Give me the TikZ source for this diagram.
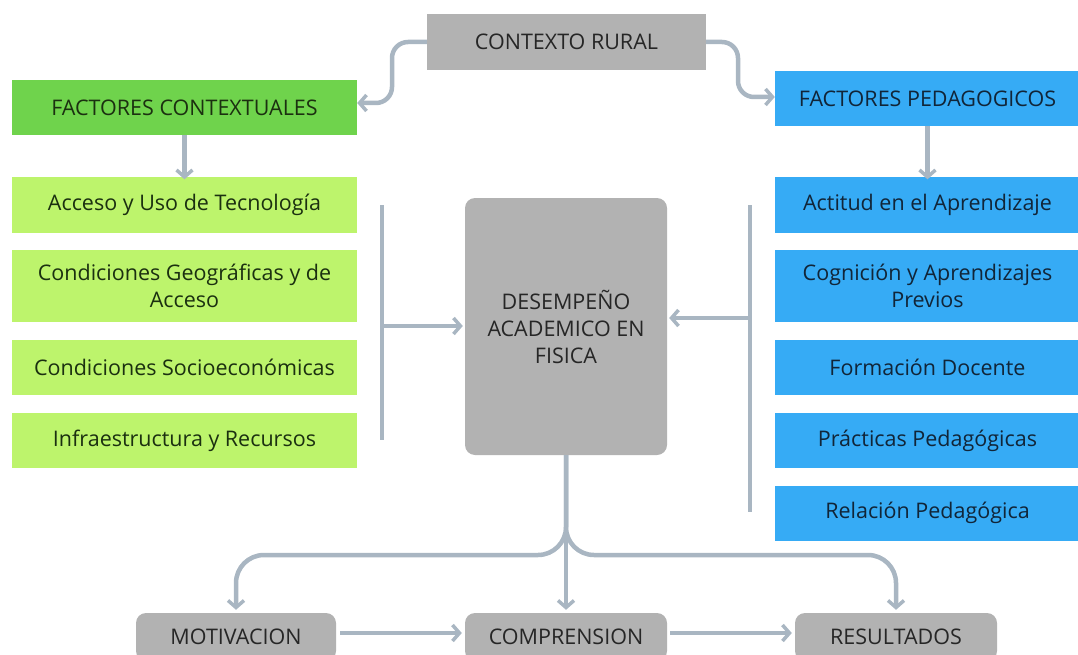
\documentclass[tikz,border=0pt]{standalone}
\usepackage{fontspec}
\setmainfont{Open Sans}
\usepackage{xcolor}
\usepackage{tikz}
\usetikzlibrary{arrows.meta}
\usetikzlibrary{positioning}

\definecolor{grisbox}{HTML}{B2B2B2}
\definecolor{verdehead}{HTML}{6FD34C}
\definecolor{verdebox}{HTML}{BDF46C}
\definecolor{azulbox}{HTML}{36ABF5}
\definecolor{flecha}{HTML}{A9B6C2}
\definecolor{txtgris}{HTML}{262626}
\definecolor{txtverde}{HTML}{1B3010}
\definecolor{txtazul}{HTML}{112538}

\begin{document}
\begin{tikzpicture}[
                x = 1pt, y = -1pt,
                font = \fontsize{21.5}{27}\selectfont,
                box/.style = {inner sep = 2pt, align = center, minimum width = #1},
                gris/.style = {box = #1, fill = grisbox, text = txtgris},
                grisr/.style = {gris = #1, rounded corners = 10pt},
                head/.style = {box = #1, fill = verdehead, text = txtverde, minimum height = 55pt},
                verde/.style = {box = 345pt, fill = verdebox, text = txtverde, minimum height = 55pt},
                azul/.style = {box = 305pt, fill = azulbox, text = txtazul, minimum height = 55pt},
                line/.style = {draw = flecha, line width = 4.5pt},
                arr/.style = {line, -{Straight Barb[length = 7pt, width = 16pt, line width = 3.5pt]}},
            ]
            \useasboundingbox (0,0) rectangle (1078,655);

            % cabecera
            \node (ctx) [gris = 279pt, minimum height = 56pt] at (566.5,42) {CONTEXTO RURAL};
            \node (fc) [head = 345pt] at (184.5,107.5) {FACTORES CONTEXTUALES};
            \node (fp) [azul] at (927.5,98.5) {FACTORES PEDAGOGICOS};

            % factores contextuales
            \node (c1) [verde] at (184.5,205) {Acceso y Uso de Tecnología};
            \node (c2) [verde, minimum height = 72pt] at (184.5,286) {Condiciones Geográficas y de\\Acceso};
            \node (c3) [verde] at (184.5,367.5) {Condiciones Socioeconómicas};
            \node (c4) [verde] at (184.5,440.5) {Infraestructura y Recursos};

            % factores pedagogicos
            \node (p1) [azul] at (927.5,205) {Actitud en el Aprendizaje};
            \node (p2) [azul, minimum height = 72pt] at (927.5,286) {Cognición y Aprendizajes\\Previos};
            \node (p3) [azul] at (927.5,367.5) {Formación Docente};
            \node (p4) [azul] at (927.5,440.5) {Prácticas Pedagógicas};
            \node (p5) [azul] at (927.5,513) {Relación Pedagógica};

            % centro
            \node (des) [grisr = 202pt, minimum height = 257pt] at (566,326.5) {DESEMPEÑO\\ACADEMICO EN\\FISICA};

            % resultados
            \node (mot) [grisr = 200pt, minimum height = 48pt] at (236,637) {MOTIVACION};
            \node (com) [grisr = 202pt, minimum height = 48pt] at (566,637) {COMPRENSION};
            \node (res) [grisr = 202pt, minimum height = 48pt] at (896,637) {RESULTADOS};

            \coordinate (lt) at (382,205);
            \coordinate (lb) at (382,440);
            \coordinate (lm) at (382,326);
            \coordinate (rt) at (750,205);
            \coordinate (rb) at (750,512);
            \coordinate (rm) at (750,318);

            \path[arr, rounded corners = 16pt] (ctx.west) -- (392,42) -- (392,103) -- (fc.east |- 0,103);
            \path[arr, rounded corners = 16pt] (ctx.east) -- (738,42) -- (738,97) -- (fp.west |- 0,97);
            \path[arr] (fc.south) -- ([yshift = -2pt]c1.north);
            \path[arr] (fp.south |- 0,126) -- ([yshift = -2pt]p1.north);

            \path[line] (lt) -- (lb);
            \path[line] (rt) -- (rb);
            \path[arr] (lm) -- ([xshift = -2pt]des.west |- lm);
            \path[arr] (rm) -- ([xshift = 2pt]des.east |- rm);

            \path[arr, rounded corners = 28pt] (des.south) -- (566,555) -- (236,555) -- ([yshift = 3pt]mot.north);
            \path[arr, rounded corners = 28pt] (des.south) -- (566,555) -- (896,555) -- ([yshift = 3pt]res.north);
            \path[arr] (des.south) -- ([yshift = 3pt]com.north);

            \path[arr] ([xshift = 4pt]mot.east |- 0,633) -- ([xshift = -3pt]com.west |- 0,633);
            \path[arr] ([xshift = 3pt]com.east |- 0,633) -- ([xshift = -3pt]res.west |- 0,633);
        \end{tikzpicture}
\end{document}
